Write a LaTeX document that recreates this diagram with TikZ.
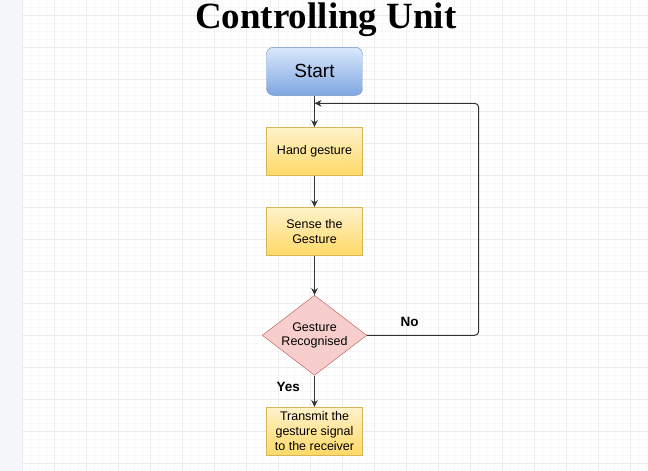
\documentclass[tikz,border=0pt]{standalone}
\usepackage{fontspec}
\setmainfont{Liberation Sans}
\newfontfamily\headfont{Liberation Serif}
\usetikzlibrary{shapes.geometric, arrows.meta}

\definecolor{sidegray}{HTML}{F5F7FA}
\definecolor{gridminor}{HTML}{F7F7F7}
\definecolor{gridmajor}{HTML}{EBEBEB}
\definecolor{blueTop}{HTML}{DAE8FC}
\definecolor{blueBot}{HTML}{7EA6E0}
\definecolor{blueLine}{HTML}{6C8EBF}
\definecolor{yellowTop}{HTML}{FFF2CC}
\definecolor{yellowBot}{HTML}{FFD966}
\definecolor{yellowLine}{HTML}{D6B656}
\definecolor{redFill}{HTML}{F8CECC}
\definecolor{redLine}{HTML}{B85450}
\definecolor{flowLine}{HTML}{333333}

\begin{document}
\begin{tikzpicture}[x=1pt, y=-1pt,
    startbox/.style={draw=blueLine, top color=blueTop, bottom color=blueBot,
      rounded corners=7pt, minimum width=96pt, minimum height=48pt,
      font=\fontsize{19}{22}\selectfont},
    procbox/.style={draw=yellowLine, top color=yellowTop, bottom color=yellowBot,
      minimum width=96pt, minimum height=48pt, align=center, inner sep=1pt,
      font=\fontsize{12.5}{15}\selectfont},
    decision/.style={diamond, draw=redLine, fill=redFill, aspect=1.31,
      minimum width=104.5pt, minimum height=80pt, inner sep=0pt, align=center,
      font=\fontsize{12.5}{14}\selectfont},
    answer/.style={anchor=base, inner sep=0pt, font=\bfseries\fontsize{13.5}{16}\selectfont},
    flow/.style={draw=flowLine, line width=1pt, -{Stealth[length=7pt, width=6.5pt]}}]
  %tikz  Controlling Unit, flowchart
    \useasboundingbox (0,0) rectangle (648,471);
    \fill[white] (0,0) rectangle (648,471);
    \fill[sidegray] (0,0) rectangle (21.5,471);

    % grid
    \foreach \x in {30,38,...,646} \draw[gridminor, line width=0.7pt] (\x,0) -- (\x,471);
    \foreach \y in {7,15,...,471} \draw[gridminor, line width=0.7pt] (22,\y) -- (648,\y);
    \foreach \x in {22,54,...,640} \draw[gridmajor, line width=0.8pt] (\x,0) -- (\x,471);
    \foreach \y in {15,47,...,463} \draw[gridmajor, line width=0.8pt] (22,\y) -- (648,\y);

    \node[anchor=base, inner sep=0pt, font=\headfont\bfseries\fontsize{37}{40}\selectfont] (head) at (325.8,28) {Controlling Unit};

    \node[startbox] (start) at (314.5,71.3) {Start};
    \node[procbox] (hand) at (314.5,151.3) {Hand gesture};
    \node[procbox] (sense) at (314.5,231.3) {Sense the\\Gesture};
    \node[decision] (recog) at (314.5,335.3) {Gesture\\Recognised};
    \node[procbox] (send) at (314.5,431.2) {Transmit the\\gesture signal\\to the receiver};

    \coordinate (back) at (314.5,103.3);
    \coordinate (loopcorner) at (478.7,103.3);

    \draw[flow] (start) -- (hand);
    \draw[flow] (hand) -- (sense);
    \draw[flow] (sense) -- (recog);
    \draw[flow] (recog) -- (send);
    \draw[flow, rounded corners=4pt] (recog.east) -| (loopcorner) -- (back);

    \node[answer] (no) at (409.5,326.7) {No};
    \node[answer] (yes) at (288.3,391) {Yes};

  \end{tikzpicture}
\end{document}
